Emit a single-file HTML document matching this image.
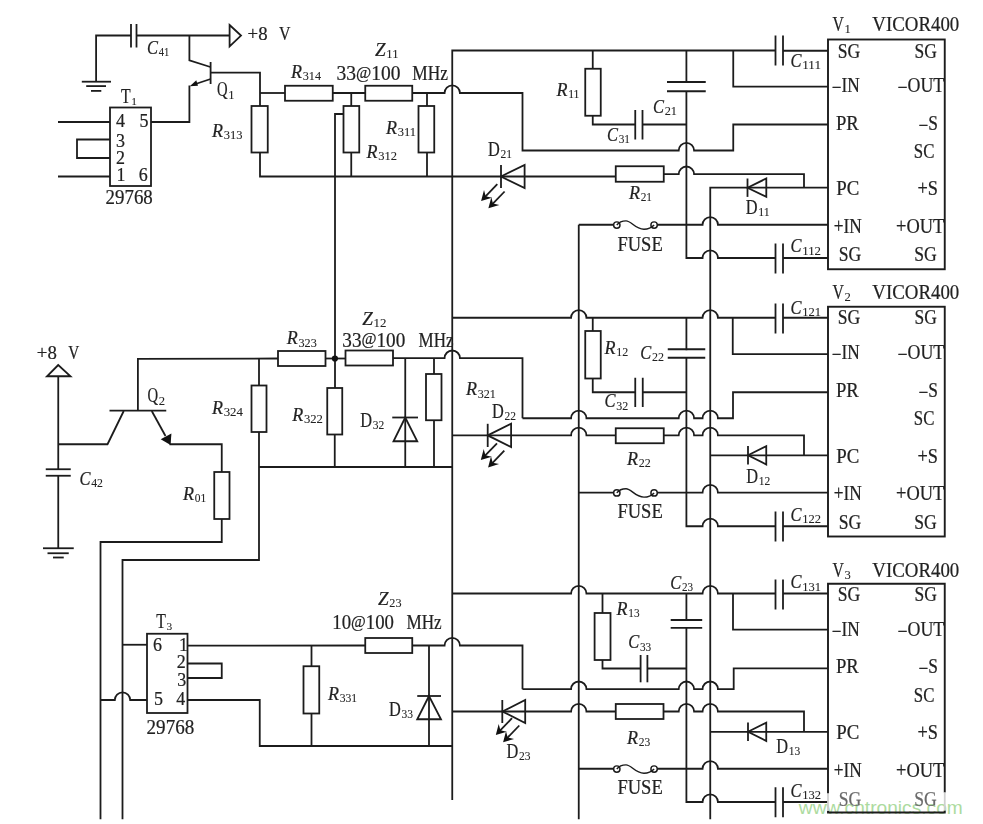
<!DOCTYPE html>
<html><head><meta charset="utf-8"><title>VICOR400 schematic</title>
<style>
html,body{margin:0;padding:0;background:#fff;overflow:hidden}
svg{display:block}
.s{fill:none;stroke:#1c1c1c;stroke-width:1.8;stroke-linejoin:miter;stroke-linecap:butt}
.f{fill:#111;stroke:none}
.t{font-family:"Liberation Serif","Times New Roman",serif;font-size:20px;fill:#222;stroke:#222;stroke-width:.22px}
.g{fill:#6a6a6a;stroke:#6a6a6a}
.u{stroke-width:.08px}
.wm{font-family:"Liberation Sans",Arial,sans-serif;font-size:19px;fill:#addb9f}
</style></head><body>
<svg width="983" height="824" viewBox="0 0 983 824">
<rect x="0" y="0" width="983" height="824" fill="#fff"/>
<text class="wm" x="798.8" y="813.5" textLength="164" lengthAdjust="spacingAndGlyphs">www.cntronics.com</text>
<g class="s">
<path d="M131 35.5 L96.1 35.5 L96.1 81.7"/>
<path d="M81.8 81.7 L111 81.7"/>
<path d="M86.2 86.1 L106 86.1"/>
<path d="M91 90.9 L101.3 90.9"/>
<path d="M131 24 L131 47.5"/>
<path d="M136.5 24 L136.5 47.5"/>
<path d="M136.5 35.5 L229.6 35.5"/>
<path d="M229.6 25 L241 35.6 L229.6 46.4 Z"/>
<path d="M189.4 35.5 L189.4 60.3 L210.4 67"/>
<path d="M210.6 62 L210.6 84"/>
<path d="M210.6 72.6 L260 72.6 L260 106"/>
<path d="M210.6 79 L192.5 85"/>
<path d="M189.4 85.6 L189.4 122 L151 122"/>
<rect x="110" y="107.5" width="41" height="78.5"/>
<path d="M58 122 L110 122"/>
<path d="M58 176.5 L110 176.5"/>
<path d="M110 139.5 L77 139.5 L77 158 L110 158"/>
<rect x="251.5" y="106" width="16.25" height="46.5"/>
<path d="M260 152.5 L260 176.5 L615.75 176.5"/>
<path d="M260 93 L285 93"/>
<rect x="285" y="85.75" width="47.75" height="15"/>
<path d="M332.75 93 L365.25 93"/>
<rect x="365.25" y="85.75" width="47" height="15"/>
<path d="M412.25 93 H444.55 A7.7 7.7 0 0 1 459.95 93 H522.5 V150.5  H678.7 A7.7 7.7 0 0 1 694.1 150.5 H733.25 V124.5 H828"/>
<path d="M351.25 93 L351.25 106"/>
<rect x="343.5" y="106" width="15.75" height="46.5"/>
<path d="M351.25 152.5 L351.25 176.5"/>
<path d="M343.5 114 L335 114 L335 388"/>
<path d="M427 93 L427 106"/>
<rect x="418.5" y="106" width="15.75" height="46.5"/>
<path d="M427 152.5 L427 176.5"/>
<path d="M452.25 800 L452.25 50.5 L775.5 50.5"/>
<path d="M592.75 50.5 L592.75 68.75"/>
<rect x="585.25" y="68.75" width="15.5" height="47"/>
<path d="M592.75 115.75 L592.75 124.5 L635.25 124.5"/>
<path d="M635.25 110 L635.25 139.5"/>
<path d="M642.5 110 L642.5 139.5"/>
<path d="M642.5 124.5 L686.4 124.5"/>
<path d="M686.4 50.5 L686.4 83"/>
<path d="M667 82 L705.75 82"/>
<path d="M667 91.25 L705.75 91.25"/>
<path d="M686.4 91.25 V258  H702.55 A7.7 7.7 0 0 1 717.95 258 H775.5"/>
<path d="M775.5 243.5 L775.5 273.5"/>
<path d="M783 243.5 L783 273.5"/>
<path d="M783 258 L828 258"/>
<path d="M733.25 50.5 L733.25 86.6 L828 86.6"/>
<path d="M775.5 35.5 L775.5 65.5"/>
<path d="M783 35.5 L783 65.5"/>
<path d="M783 50.75 L828 50.75"/>
<rect x="615.75" y="166.25" width="48" height="15.5"/>
<path d="M663.75 174.2 H678.7 A7.7 7.7 0 0 1 694.1 174.2 H804 V187.7"/>
<path d="M710.25 819.25 L710.25 187.7 L828 187.7"/>
<path d="M747.5 178.5 L747.5 196.9"/>
<path d="M747.5 187.7 L766.3 178.5 L766.3 196.9 Z"/>
<path d="M578.75 819.25 L578.75 224.75"/>
<path d="M578.75 224.75 L613.6 224.75"/>
<circle cx="616.8" cy="225.05" r="3.2" stroke-width="1.45"/>
<circle cx="654.1" cy="225.05" r="3.2" stroke-width="1.45"/>
<path stroke-width="1.45" d="M616.8 225.05 Q620 220.85 626 220.85 C631.5 220.85 635 229.25 644 229.25 Q650 229.25 654.1 225.05"/>
<path d="M657.3 224.75 H702.55 A7.7 7.7 0 0 1 717.95 224.75 H828"/>
<rect x="828" y="39.5" width="116.75" height="229.75" stroke-width="1.9"/>
<path d="M501 164.9 L501 188.1"/>
<path d="M501 176.5 L524.6 164.9 L524.6 188.1 Z"/>
<path d="M497.3 184.2 L483.88 198.12"/>
<path d="M504.6 191.5 L491.18 205.42"/>
<path d="M452.25 317.75 H571.05 A7.7 7.7 0 0 1 586.45 317.75 H702.55 A7.7 7.7 0 0 1 717.95 317.75 H775.5"/>
<path d="M775.5 303.5 L775.5 333.5"/>
<path d="M783 303.5 L783 333.5"/>
<path d="M783 317.75 L828 317.75"/>
<path d="M592.75 317.75 L592.75 331"/>
<rect x="585.25" y="331" width="15.5" height="47.5"/>
<path d="M592.75 378.5 L592.75 392.25 L635.25 392.25"/>
<path d="M635.25 377.75 L635.25 407"/>
<path d="M642.75 377.75 L642.75 407"/>
<path d="M642.75 392.25 L686.4 392.25"/>
<path d="M686.4 317.75 L686.4 350.2"/>
<path d="M667.75 349.25 L705.25 349.25"/>
<path d="M667.75 357.75 L705.25 357.75"/>
<path d="M686.4 357.75 V526.25  H702.55 A7.7 7.7 0 0 1 717.95 526.25 H775.5"/>
<path d="M775.5 511.5 L775.5 541.5"/>
<path d="M783 511.5 L783 541.5"/>
<path d="M783 526.25 L828 526.25"/>
<path d="M732.75 317.75 L732.75 354.1 L828 354.1"/>
<path d="M522.5 418.25 H571.05 A7.7 7.7 0 0 1 586.45 418.25 H678.7 A7.7 7.7 0 0 1 694.1 418.25 H702.55 A7.7 7.7 0 0 1 717.95 418.25 H733 V392.25 H828"/>
<path d="M452.25 435.4 H571.05 A7.7 7.7 0 0 1 586.45 435.4 H615.75"/>
<rect x="615.75" y="428.25" width="48" height="15"/>
<path d="M663.75 435.4 H678.7 A7.7 7.7 0 0 1 694.1 435.4 H702.55 A7.7 7.7 0 0 1 717.95 435.4 H804 V455.3"/>
<path d="M710.25 455.3 L828 455.3"/>
<path d="M748 446.1 L748 464.5"/>
<path d="M748 455.3 L766.25 446.1 L766.25 464.5 Z"/>
<path d="M578.75 492.6 L613.6 492.6"/>
<circle cx="616.8" cy="492.9" r="3.2" stroke-width="1.45"/>
<circle cx="654.1" cy="492.9" r="3.2" stroke-width="1.45"/>
<path stroke-width="1.45" d="M616.8 492.9 Q620 488.7 626 488.7 C631.5 488.7 635 497.1 644 497.1 Q650 497.1 654.1 492.9"/>
<path d="M657.3 492.6 H702.55 A7.7 7.7 0 0 1 717.95 492.6 H828"/>
<rect x="828" y="306.75" width="116.75" height="229.75" stroke-width="1.9"/>
<path d="M487.7 423.8 L487.7 447"/>
<path d="M487.7 435.4 L511.1 423.8 L511.1 447 Z"/>
<path d="M497 443.3 L483.58 457.22"/>
<path d="M504.3 450.6 L490.88 464.52"/>
<path d="M452.25 593.5 H571.05 A7.7 7.7 0 0 1 586.45 593.5 H702.55 A7.7 7.7 0 0 1 717.95 593.5 H775.5"/>
<path d="M775.5 579.5 L775.5 609.5"/>
<path d="M783 579.5 L783 609.5"/>
<path d="M783 593.5 L828 593.5"/>
<path d="M602.5 593.5 L602.5 613"/>
<rect x="594.6" y="613" width="15.9" height="47"/>
<path d="M602.5 660 L602.5 668.5 L640.6 668.5"/>
<path d="M640.6 655 L640.6 682.3"/>
<path d="M647.4 655 L647.4 682.3"/>
<path d="M647.4 668.5 L686.4 668.5"/>
<path d="M686.4 593.5 L686.4 621"/>
<path d="M670.7 620 L702.2 620"/>
<path d="M670.7 627.8 L702.2 627.8"/>
<path d="M686.4 627.8 V802  H702.55 A7.7 7.7 0 0 1 717.95 802 H775.5"/>
<path d="M775.5 787.25 L775.5 817.25"/>
<path d="M783 787.25 L783 817.25"/>
<path d="M783 802 L828 802"/>
<path d="M733 593.5 L733 629.7 L828 629.7"/>
<path d="M522.5 689.2 H571.05 A7.7 7.7 0 0 1 586.45 689.2 H678.7 A7.7 7.7 0 0 1 694.1 689.2 H702.55 A7.7 7.7 0 0 1 717.95 689.2 H733.7 V668.3 H828"/>
<path d="M452.25 711.5 H571.05 A7.7 7.7 0 0 1 586.45 711.5 H615.75"/>
<rect x="615.75" y="704" width="47.75" height="15"/>
<path d="M663.5 711.5 H678.7 A7.7 7.7 0 0 1 694.1 711.5 H702.55 A7.7 7.7 0 0 1 717.95 711.5 H804 V731.8"/>
<path d="M710.25 731.8 L828 731.8"/>
<path d="M748 722.6 L748 741"/>
<path d="M748 731.8 L766.25 722.6 L766.25 741 Z"/>
<path d="M578.75 768.75 L613.6 768.75"/>
<circle cx="616.8" cy="769.05" r="3.2" stroke-width="1.45"/>
<circle cx="654.1" cy="769.05" r="3.2" stroke-width="1.45"/>
<path stroke-width="1.45" d="M616.8 769.05 Q620 764.85 626 764.85 C631.5 764.85 635 773.25 644 773.25 Q650 773.25 654.1 769.05"/>
<path d="M657.3 768.75 H702.55 A7.7 7.7 0 0 1 717.95 768.75 H828"/>
<path stroke-width="1.9" d="M828 793.4 V583.75 H944.75 V792.5 M944.75 810.5 V812.5 H828 V810.7"/>
<path d="M502.3 700 L502.3 723"/>
<path d="M502.3 711.5 L525.2 700 L525.2 723 Z"/>
<path d="M512 718.2 L498.58 732.12"/>
<path d="M519.3 725.5 L505.88 739.42"/>
<path stroke="#cfcfcf" d="M828 793.4 V810.7 M944.75 792.5 V810.5"/>
<path d="M58.25 365 L47 376.25 L70.5 376.25 Z"/>
<path d="M58.25 376.25 L58.25 469.25"/>
<path d="M45.75 469.25 L70.75 469.25"/>
<path d="M45.75 475.75 L70.75 475.75"/>
<path d="M58.25 475.75 L58.25 548.25"/>
<path d="M43 548.25 L73.75 548.25"/>
<path d="M47.5 553.25 L68.75 553.25"/>
<path d="M53 557.5 L63.75 557.5"/>
<path d="M58.25 444.25 L107.5 444.25 L123.75 411"/>
<path d="M109.5 410.6 L166.25 410.6"/>
<path d="M137.9 410.6 L137.9 358.8 L278 358.5"/>
<path d="M151.75 411 L165.5 436"/>
<path d="M169.5 444.25 L221.75 444.25 L221.75 472"/>
<rect x="214.25" y="472" width="15.25" height="47"/>
<path d="M221.75 519 L221.75 542 L100.5 542 L100.5 819.25"/>
<path d="M259 358.5 L259 385.5"/>
<rect x="251.5" y="385.5" width="15" height="46.5"/>
<path d="M259 432 L259 560 L122.5 560 L122.5 819.25"/>
<path d="M259 467 L452.25 467"/>
<rect x="278" y="351" width="47.5" height="15"/>
<path d="M325.5 358.5 L345.5 358.5"/>
<rect x="345.5" y="350.5" width="47.5" height="15"/>
<path d="M393 358.2 H444.55 A7.7 7.7 0 0 1 459.95 358.2 H522.5 V418.25"/>
<rect x="327.25" y="388" width="15" height="46.5"/>
<path d="M334.75 434.5 L334.75 467"/>
<path d="M405.25 358.5 L405.25 467"/>
<path d="M392.25 417.5 L418 417.5"/>
<path d="M405.25 417.5 L393.5 441.25 L417.25 441.25 Z"/>
<path d="M434 358.5 L434 374"/>
<rect x="426" y="374" width="15.5" height="46.25"/>
<path d="M434 420.25 L434 467"/>
<rect x="147" y="633.75" width="40.5" height="79.25"/>
<path d="M122.5 644.75 L147 644.75"/>
<path d="M100.5 700 H114.8 A7.7 7.7 0 0 1 130.2 700 H147"/>
<path d="M187.5 645.7 L365.25 645.5"/>
<rect x="365.25" y="638" width="47" height="15"/>
<path d="M412.25 645.5 H444.55 A7.7 7.7 0 0 1 459.95 645.5 H522.5 V689.2"/>
<path d="M187.5 663.5 L221.75 663.5 L221.75 678 L187.5 678"/>
<path d="M187.5 700 L259.75 700 L259.75 746 L452.25 746"/>
<path d="M311.5 645.5 L311.5 666.25"/>
<rect x="303.5" y="666.25" width="15.75" height="47.25"/>
<path d="M311.5 713.5 L311.5 746"/>
<path d="M429 645.5 L429 746"/>
<path d="M417.25 696 L441 696"/>
<path d="M429 696 L417.25 719.25 L441 719.25 Z"/>
</g>
<g class="f">
<path d="M189.8 86.2 L196.3 80.2 L198 85.8 Z"/>
<path d="M481.1 201 L492.07 197.69 L485.68 196.25 L484.01 189.91 Z"/>
<path d="M488.4 208.3 L499.37 204.99 L492.98 203.55 L491.31 197.21 Z"/>
<path d="M480.8 460.1 L491.77 456.79 L485.38 455.35 L483.71 449.01 Z"/>
<path d="M488.1 467.4 L499.07 464.09 L492.68 462.65 L491.01 456.31 Z"/>
<path d="M495.8 735 L506.77 731.69 L500.38 730.25 L498.71 723.91 Z"/>
<path d="M503.1 742.3 L514.07 738.99 L507.68 737.55 L506.01 731.21 Z"/>
<path d="M170.6 445 L160.7 439.3 L171.4 433.4 Z"/>
<circle cx="334.9" cy="358.5" r="3.1"/>
</g>
<g class="t" style="filter:grayscale(1)">
<text x="247.6" y="40" textLength="20" lengthAdjust="spacingAndGlyphs" font-size="19">+8</text>
<text x="279" y="40" textLength="11.5" lengthAdjust="spacingAndGlyphs" font-size="19">V</text>
<text x="36.8" y="359" textLength="20" lengthAdjust="spacingAndGlyphs" font-size="19">+8</text>
<text x="68.3" y="359" textLength="11" lengthAdjust="spacingAndGlyphs" font-size="19">V</text>
<text x="121" y="103" textLength="9.6" lengthAdjust="spacingAndGlyphs">T</text>
<text x="131.3" y="105.4" font-size="11.4" class="u">1</text>
<text x="217" y="96.25" textLength="10.6" lengthAdjust="spacingAndGlyphs">Q</text>
<text x="228.3" y="98.65" font-size="12.6" class="u">1</text>
<text x="147.5" y="402.3" textLength="10.6" lengthAdjust="spacingAndGlyphs">Q</text>
<text x="158.8" y="404.7" font-size="12.6" class="u">2</text>
<text x="156.3" y="627.5" textLength="9.6" lengthAdjust="spacingAndGlyphs">T</text>
<text x="166.6" y="629.9" font-size="11.4" class="u">3</text>
<text x="116" y="126.6" textLength="9" lengthAdjust="spacingAndGlyphs" font-size="18.4">4</text>
<text x="139.4" y="126.9" textLength="9" lengthAdjust="spacingAndGlyphs" font-size="18.4">5</text>
<text x="116" y="146.8" textLength="9" lengthAdjust="spacingAndGlyphs" font-size="18.4">3</text>
<text x="116" y="163.8" textLength="9" lengthAdjust="spacingAndGlyphs" font-size="18.4">2</text>
<text x="116.4" y="180.6" textLength="9" lengthAdjust="spacingAndGlyphs" font-size="18.4">1</text>
<text x="138.8" y="180.8" textLength="9" lengthAdjust="spacingAndGlyphs" font-size="18.4">6</text>
<text x="152.9" y="651.2" textLength="9" lengthAdjust="spacingAndGlyphs" font-size="18.4">6</text>
<text x="179" y="651.2" textLength="9" lengthAdjust="spacingAndGlyphs" font-size="18.4">1</text>
<text x="176.8" y="667.6" textLength="9" lengthAdjust="spacingAndGlyphs" font-size="18.4">2</text>
<text x="177.2" y="686.3" textLength="9" lengthAdjust="spacingAndGlyphs" font-size="18.4">3</text>
<text x="154" y="705" textLength="9" lengthAdjust="spacingAndGlyphs" font-size="18.4">5</text>
<text x="176.2" y="704.6" textLength="9" lengthAdjust="spacingAndGlyphs" font-size="18.4">4</text>
<text x="105.6" y="204.4" textLength="47.2" lengthAdjust="spacingAndGlyphs">29768</text>
<text x="146.6" y="734" textLength="47.6" lengthAdjust="spacingAndGlyphs">29768</text>
<text x="336.5" y="80" textLength="64" lengthAdjust="spacingAndGlyphs">33<tspan font-size="17" dy="-2.2">@</tspan><tspan dy="2.2">100</tspan></text>
<text x="412.3" y="80" textLength="35.7" lengthAdjust="spacingAndGlyphs">MHz</text>
<text x="342.3" y="346.5" textLength="63" lengthAdjust="spacingAndGlyphs">33<tspan font-size="17" dy="-2.2">@</tspan><tspan dy="2.2">100</tspan></text>
<text x="418.5" y="346.5" textLength="35" lengthAdjust="spacingAndGlyphs">MHz</text>
<text x="332.3" y="629.3" textLength="61.7" lengthAdjust="spacingAndGlyphs">10<tspan font-size="17" dy="-2.2">@</tspan><tspan dy="2.2">100</tspan></text>
<text x="406.5" y="629.3" textLength="35.2" lengthAdjust="spacingAndGlyphs">MHz</text>
<text x="617.4" y="251.3" textLength="45.3" lengthAdjust="spacingAndGlyphs">FUSE</text>
<text x="617.4" y="518.4" textLength="45.3" lengthAdjust="spacingAndGlyphs">FUSE</text>
<text x="617.4" y="794.3" textLength="45.3" lengthAdjust="spacingAndGlyphs">FUSE</text>
<text x="488" y="156" textLength="11.8" lengthAdjust="spacingAndGlyphs">D</text>
<text x="500.5" y="158.4" textLength="11.5" lengthAdjust="spacingAndGlyphs" font-size="12.6" class="u">21</text>
<text x="492" y="418" textLength="11.8" lengthAdjust="spacingAndGlyphs">D</text>
<text x="504.5" y="420.4" textLength="11.5" lengthAdjust="spacingAndGlyphs" font-size="12.6" class="u">22</text>
<text x="506.5" y="758" textLength="11.8" lengthAdjust="spacingAndGlyphs">D</text>
<text x="519" y="760.4" textLength="11.5" lengthAdjust="spacingAndGlyphs" font-size="12.6" class="u">23</text>
<text x="745.7" y="214" textLength="11.8" lengthAdjust="spacingAndGlyphs">D</text>
<text x="758.2" y="216.4" textLength="11.5" lengthAdjust="spacingAndGlyphs" font-size="12.6" class="u">11</text>
<text x="746.25" y="482.75" textLength="11.8" lengthAdjust="spacingAndGlyphs">D</text>
<text x="758.75" y="485.15" textLength="11.5" lengthAdjust="spacingAndGlyphs" font-size="12.6" class="u">12</text>
<text x="776.25" y="753" textLength="11.8" lengthAdjust="spacingAndGlyphs">D</text>
<text x="788.75" y="755.4" textLength="11.5" lengthAdjust="spacingAndGlyphs" font-size="12.6" class="u">13</text>
<text x="360.25" y="427" textLength="11.8" lengthAdjust="spacingAndGlyphs">D</text>
<text x="372.75" y="429.4" textLength="11.5" lengthAdjust="spacingAndGlyphs" font-size="12.6" class="u">32</text>
<text x="389" y="716" textLength="11.8" lengthAdjust="spacingAndGlyphs">D</text>
<text x="401.5" y="718.4" textLength="11.5" lengthAdjust="spacingAndGlyphs" font-size="12.6" class="u">33</text>
<text x="832.5" y="30.9" textLength="11.4" lengthAdjust="spacingAndGlyphs">V</text>
<text x="844.6" y="33.3" font-size="12.6" class="u">1</text>
<text x="872.3" y="30.9" textLength="87" lengthAdjust="spacingAndGlyphs">VICOR400</text>
<text x="837.7" y="57.9" textLength="22.5" lengthAdjust="spacingAndGlyphs">SG</text>
<text x="914.6" y="57.9" textLength="22.3" lengthAdjust="spacingAndGlyphs">SG</text>
<text x="831.8" y="92.15" textLength="28" lengthAdjust="spacingAndGlyphs"><tspan dy="1.9">−</tspan><tspan dy="-1.9">IN</tspan></text>
<text x="897.5" y="92.15" textLength="46.8" lengthAdjust="spacingAndGlyphs"><tspan dy="1.9">−</tspan><tspan dy="-1.9">OUT</tspan></text>
<text x="836" y="129.65" textLength="22.8" lengthAdjust="spacingAndGlyphs">PR</text>
<text x="918.5" y="129.65" textLength="19.5" lengthAdjust="spacingAndGlyphs"><tspan dy="1.9">−</tspan><tspan dy="-1.9">S</tspan></text>
<text x="913.8" y="158.4" textLength="20.6" lengthAdjust="spacingAndGlyphs">SC</text>
<text x="836.2" y="194.9" textLength="23" lengthAdjust="spacingAndGlyphs">PC</text>
<text x="917.5" y="194.9" textLength="20.5" lengthAdjust="spacingAndGlyphs">+S</text>
<text x="833.8" y="232.65" textLength="28" lengthAdjust="spacingAndGlyphs">+IN</text>
<text x="896" y="232.65" textLength="48.3" lengthAdjust="spacingAndGlyphs">+OUT</text>
<text x="838.8" y="261.4" textLength="22.5" lengthAdjust="spacingAndGlyphs">SG</text>
<text x="914.3" y="261.4" textLength="22.5" lengthAdjust="spacingAndGlyphs">SG</text>
<text x="832.5" y="298.6" textLength="11.4" lengthAdjust="spacingAndGlyphs">V</text>
<text x="844.6" y="301" font-size="12.6" class="u">2</text>
<text x="872.3" y="298.6" textLength="87" lengthAdjust="spacingAndGlyphs">VICOR400</text>
<text x="837.7" y="324.4" textLength="22.5" lengthAdjust="spacingAndGlyphs">SG</text>
<text x="914.6" y="324.4" textLength="22.3" lengthAdjust="spacingAndGlyphs">SG</text>
<text x="831.8" y="358.9" textLength="28" lengthAdjust="spacingAndGlyphs"><tspan dy="1.9">−</tspan><tspan dy="-1.9">IN</tspan></text>
<text x="897.5" y="358.9" textLength="46.8" lengthAdjust="spacingAndGlyphs"><tspan dy="1.9">−</tspan><tspan dy="-1.9">OUT</tspan></text>
<text x="836" y="396.9" textLength="22.8" lengthAdjust="spacingAndGlyphs">PR</text>
<text x="918.5" y="396.9" textLength="19.5" lengthAdjust="spacingAndGlyphs"><tspan dy="1.9">−</tspan><tspan dy="-1.9">S</tspan></text>
<text x="913.8" y="425.4" textLength="20.6" lengthAdjust="spacingAndGlyphs">SC</text>
<text x="836.2" y="463.15" textLength="23" lengthAdjust="spacingAndGlyphs">PC</text>
<text x="917.5" y="463.15" textLength="20.5" lengthAdjust="spacingAndGlyphs">+S</text>
<text x="833.8" y="500.4" textLength="28" lengthAdjust="spacingAndGlyphs">+IN</text>
<text x="896" y="500.4" textLength="48.3" lengthAdjust="spacingAndGlyphs">+OUT</text>
<text x="838.8" y="529.15" textLength="22.5" lengthAdjust="spacingAndGlyphs">SG</text>
<text x="914.3" y="529.15" textLength="22.5" lengthAdjust="spacingAndGlyphs">SG</text>
<text x="832.5" y="576.6" textLength="11.4" lengthAdjust="spacingAndGlyphs">V</text>
<text x="844.6" y="579" font-size="12.6" class="u">3</text>
<text x="872.3" y="576.6" textLength="87" lengthAdjust="spacingAndGlyphs">VICOR400</text>
<text x="837.7" y="601.15" textLength="22.5" lengthAdjust="spacingAndGlyphs">SG</text>
<text x="914.6" y="601.15" textLength="22.3" lengthAdjust="spacingAndGlyphs">SG</text>
<text x="831.8" y="635.9" textLength="28" lengthAdjust="spacingAndGlyphs"><tspan dy="1.9">−</tspan><tspan dy="-1.9">IN</tspan></text>
<text x="897.5" y="635.9" textLength="46.8" lengthAdjust="spacingAndGlyphs"><tspan dy="1.9">−</tspan><tspan dy="-1.9">OUT</tspan></text>
<text x="836" y="672.65" textLength="22.8" lengthAdjust="spacingAndGlyphs">PR</text>
<text x="918.5" y="672.65" textLength="19.5" lengthAdjust="spacingAndGlyphs"><tspan dy="1.9">−</tspan><tspan dy="-1.9">S</tspan></text>
<text x="913.8" y="702.15" textLength="20.6" lengthAdjust="spacingAndGlyphs">SC</text>
<text x="836.2" y="738.9" textLength="23" lengthAdjust="spacingAndGlyphs">PC</text>
<text x="917.5" y="738.9" textLength="20.5" lengthAdjust="spacingAndGlyphs">+S</text>
<text x="833.8" y="776.65" textLength="28" lengthAdjust="spacingAndGlyphs">+IN</text>
<text x="896" y="776.65" textLength="48.3" lengthAdjust="spacingAndGlyphs">+OUT</text>
<text x="838.8" y="805.9" textLength="22.5" lengthAdjust="spacingAndGlyphs" class="g">SG</text>
<text x="914.3" y="805.9" textLength="22.5" lengthAdjust="spacingAndGlyphs" class="g">SG</text>
<text x="147" y="53.5" font-style="italic" textLength="11" lengthAdjust="spacingAndGlyphs" font-size="19">C</text>
<text x="158.7" y="55.9" textLength="10.6" lengthAdjust="spacingAndGlyphs" font-size="12.6" class="u">41</text>
<text x="291" y="77.5" font-style="italic" textLength="11" lengthAdjust="spacingAndGlyphs" font-size="19">R</text>
<text x="302.7" y="79.9" textLength="18.3" lengthAdjust="spacingAndGlyphs" font-size="12.6" class="u">314</text>
<text x="375" y="55.5" font-style="italic" textLength="10.6" lengthAdjust="spacingAndGlyphs" font-size="19">Z</text>
<text x="386.3" y="57.9" textLength="12.2" lengthAdjust="spacingAndGlyphs" font-size="12.6" class="u">11</text>
<text x="212" y="137" font-style="italic" textLength="11" lengthAdjust="spacingAndGlyphs" font-size="19">R</text>
<text x="223.7" y="139.4" textLength="18.8" lengthAdjust="spacingAndGlyphs" font-size="12.6" class="u">313</text>
<text x="386" y="134" font-style="italic" textLength="11" lengthAdjust="spacingAndGlyphs" font-size="19">R</text>
<text x="397.7" y="136.4" textLength="18.3" lengthAdjust="spacingAndGlyphs" font-size="12.6" class="u">311</text>
<text x="366.5" y="157.5" font-style="italic" textLength="11" lengthAdjust="spacingAndGlyphs" font-size="19">R</text>
<text x="378.2" y="159.9" textLength="18.8" lengthAdjust="spacingAndGlyphs" font-size="12.6" class="u">312</text>
<text x="556.5" y="96" font-style="italic" textLength="11" lengthAdjust="spacingAndGlyphs" font-size="19">R</text>
<text x="568.2" y="98.4" textLength="11.3" lengthAdjust="spacingAndGlyphs" font-size="12.6" class="u">11</text>
<text x="653" y="112.5" font-style="italic" textLength="11" lengthAdjust="spacingAndGlyphs" font-size="19">C</text>
<text x="664.7" y="114.9" textLength="12.3" lengthAdjust="spacingAndGlyphs" font-size="12.6" class="u">21</text>
<text x="607" y="140.75" font-style="italic" textLength="11" lengthAdjust="spacingAndGlyphs" font-size="19">C</text>
<text x="618.7" y="143.15" textLength="11.3" lengthAdjust="spacingAndGlyphs" font-size="12.6" class="u">31</text>
<text x="629" y="199" font-style="italic" textLength="11" lengthAdjust="spacingAndGlyphs" font-size="19">R</text>
<text x="640.7" y="201.4" textLength="11.3" lengthAdjust="spacingAndGlyphs" font-size="12.6" class="u">21</text>
<text x="790.5" y="67" font-style="italic" textLength="11" lengthAdjust="spacingAndGlyphs" font-size="19">C</text>
<text x="802.2" y="69.4" textLength="18.8" lengthAdjust="spacingAndGlyphs" font-size="12.6" class="u">111</text>
<text x="790.5" y="252.25" font-style="italic" textLength="11" lengthAdjust="spacingAndGlyphs" font-size="19">C</text>
<text x="802.2" y="254.65" textLength="18.8" lengthAdjust="spacingAndGlyphs" font-size="12.6" class="u">112</text>
<text x="790.5" y="313.5" font-style="italic" textLength="11" lengthAdjust="spacingAndGlyphs" font-size="19">C</text>
<text x="802.2" y="315.9" textLength="18.8" lengthAdjust="spacingAndGlyphs" font-size="12.6" class="u">121</text>
<text x="790.5" y="520.75" font-style="italic" textLength="11" lengthAdjust="spacingAndGlyphs" font-size="19">C</text>
<text x="802.2" y="523.15" textLength="18.8" lengthAdjust="spacingAndGlyphs" font-size="12.6" class="u">122</text>
<text x="790.5" y="588.25" font-style="italic" textLength="11" lengthAdjust="spacingAndGlyphs" font-size="19">C</text>
<text x="802.2" y="590.65" textLength="18.8" lengthAdjust="spacingAndGlyphs" font-size="12.6" class="u">131</text>
<text x="790.5" y="796.75" font-style="italic" textLength="11" lengthAdjust="spacingAndGlyphs" font-size="19">C</text>
<text x="802.2" y="799.15" textLength="18.8" lengthAdjust="spacingAndGlyphs" font-size="12.6" class="u">132</text>
<text x="286.75" y="344.25" font-style="italic" textLength="11" lengthAdjust="spacingAndGlyphs" font-size="19">R</text>
<text x="298.45" y="346.65" textLength="18.3" lengthAdjust="spacingAndGlyphs" font-size="12.6" class="u">323</text>
<text x="362.25" y="324.75" font-style="italic" textLength="10.6" lengthAdjust="spacingAndGlyphs" font-size="19">Z</text>
<text x="373.55" y="327.15" textLength="12.9" lengthAdjust="spacingAndGlyphs" font-size="12.6" class="u">12</text>
<text x="212" y="413.75" font-style="italic" textLength="11" lengthAdjust="spacingAndGlyphs" font-size="19">R</text>
<text x="223.7" y="416.15" textLength="19.3" lengthAdjust="spacingAndGlyphs" font-size="12.6" class="u">324</text>
<text x="292.25" y="420.75" font-style="italic" textLength="11" lengthAdjust="spacingAndGlyphs" font-size="19">R</text>
<text x="303.95" y="423.15" textLength="19" lengthAdjust="spacingAndGlyphs" font-size="12.6" class="u">322</text>
<text x="466" y="395.3" font-style="italic" textLength="11" lengthAdjust="spacingAndGlyphs" font-size="19">R</text>
<text x="477.7" y="397.7" textLength="18.1" lengthAdjust="spacingAndGlyphs" font-size="12.6" class="u">321</text>
<text x="604.5" y="353.5" font-style="italic" textLength="11" lengthAdjust="spacingAndGlyphs" font-size="19">R</text>
<text x="616.2" y="355.9" textLength="12" lengthAdjust="spacingAndGlyphs" font-size="12.6" class="u">12</text>
<text x="640.25" y="359" font-style="italic" textLength="11" lengthAdjust="spacingAndGlyphs" font-size="19">C</text>
<text x="651.95" y="361.4" textLength="12" lengthAdjust="spacingAndGlyphs" font-size="12.6" class="u">22</text>
<text x="604.5" y="407.25" font-style="italic" textLength="11" lengthAdjust="spacingAndGlyphs" font-size="19">C</text>
<text x="616.2" y="409.65" textLength="12" lengthAdjust="spacingAndGlyphs" font-size="12.6" class="u">32</text>
<text x="627" y="465" font-style="italic" textLength="11" lengthAdjust="spacingAndGlyphs" font-size="19">R</text>
<text x="638.7" y="467.4" textLength="12" lengthAdjust="spacingAndGlyphs" font-size="12.6" class="u">22</text>
<text x="79.5" y="485" font-style="italic" textLength="11" lengthAdjust="spacingAndGlyphs" font-size="19">C</text>
<text x="91.2" y="487.4" textLength="11.8" lengthAdjust="spacingAndGlyphs" font-size="12.6" class="u">42</text>
<text x="183" y="500" font-style="italic" textLength="11" lengthAdjust="spacingAndGlyphs" font-size="19">R</text>
<text x="194.7" y="502.4" textLength="11.5" lengthAdjust="spacingAndGlyphs" font-size="12.6" class="u">01</text>
<text x="378" y="604.5" font-style="italic" textLength="10.6" lengthAdjust="spacingAndGlyphs" font-size="19">Z</text>
<text x="389.3" y="606.9" textLength="12.2" lengthAdjust="spacingAndGlyphs" font-size="12.6" class="u">23</text>
<text x="328" y="700" font-style="italic" textLength="11" lengthAdjust="spacingAndGlyphs" font-size="19">R</text>
<text x="339.7" y="702.4" textLength="17.5" lengthAdjust="spacingAndGlyphs" font-size="12.6" class="u">331</text>
<text x="616.6" y="614.7" font-style="italic" textLength="11" lengthAdjust="spacingAndGlyphs" font-size="19">R</text>
<text x="628.3" y="617.1" textLength="11.3" lengthAdjust="spacingAndGlyphs" font-size="12.6" class="u">13</text>
<text x="670.2" y="588.8" font-style="italic" textLength="11" lengthAdjust="spacingAndGlyphs" font-size="19">C</text>
<text x="681.9" y="591.2" textLength="11.1" lengthAdjust="spacingAndGlyphs" font-size="12.6" class="u">23</text>
<text x="628.2" y="648.3" font-style="italic" textLength="11" lengthAdjust="spacingAndGlyphs" font-size="19">C</text>
<text x="639.9" y="650.7" textLength="11.3" lengthAdjust="spacingAndGlyphs" font-size="12.6" class="u">33</text>
<text x="627" y="743.75" font-style="italic" textLength="11" lengthAdjust="spacingAndGlyphs" font-size="19">R</text>
<text x="638.7" y="746.15" textLength="11.5" lengthAdjust="spacingAndGlyphs" font-size="12.6" class="u">23</text>
</g>
</svg>
</body></html>
